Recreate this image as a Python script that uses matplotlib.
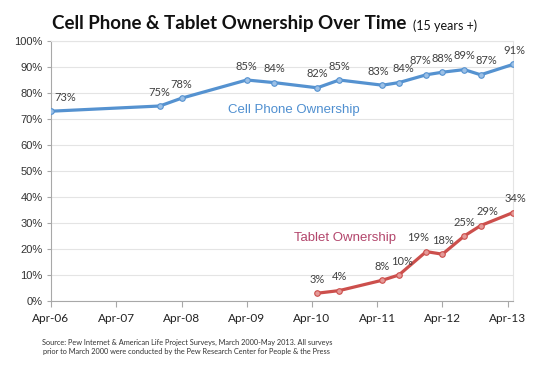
import datetime as dt
import matplotlib
matplotlib.use("Agg")
import matplotlib.pyplot as plt
import matplotlib.dates as mdates
from matplotlib.ticker import FuncFormatter

# data (Pew surveys)
cell_dates = ["2006-04", "2007-12", "2008-04", "2009-04", "2009-09", "2010-05", "2010-09",
              "2011-05", "2011-08", "2012-01", "2012-04", "2012-08", "2012-11", "2013-05"]
cell_pct = [73, 75, 78, 85, 84, 82, 85, 83, 84, 87, 88, 89, 87, 91]
tab_dates = ["2010-05", "2010-09", "2011-05", "2011-08", "2012-01", "2012-04",
             "2012-08", "2012-11", "2013-05"]
tab_pct = [3, 4, 8, 10, 19, 18, 25, 29, 34]
tick_years = [2006, 2007, 2008, 2009, 2010, 2011, 2012, 2013]

# small horizontal nudges for the value labels (points)
cell_dx = [10, 0, 0, 0, 0, 0, 0, -3, 3, -4, 0, 0, 4, 1]
tab_dx = [0, 0, 0, 2, -6, 0, 0, 5, 2]


def to_date(s):
    y, m = s.split("-")
    return dt.datetime(int(y), int(m), 1)


cx = [to_date(d) for d in cell_dates]
tx = [to_date(d) for d in tab_dates]

fig = plt.figure(figsize=(5.4, 3.71), dpi=100)
ax = fig.add_axes([51 / 540, 1 - 301 / 371, 462 / 540, 260 / 371])

blue = "#5592d0"
red = "#cc4f4c"
ax.plot(cx, cell_pct, color=blue, lw=2.3, marker="o", ms=4, mfc="#9cc0e6", mec=blue, mew=0.8, zorder=3)
ax.plot(tx, tab_pct, color=red, lw=2.3, marker="o", ms=4, mfc="#e59a98", mec=red, mew=0.8, zorder=3)

for x, v, d in zip(cx, cell_pct, cell_dx):
    ax.annotate(f"{v}%", (x, v), xytext=(d, 6), textcoords="offset points", ha="center",
                va="bottom", fontsize=8, family="Lato", color="#404040")
for x, v, d in zip(tx, tab_pct, tab_dx):
    ax.annotate(f"{v}%", (x, v), xytext=(d, 6), textcoords="offset points", ha="center",
                va="bottom", fontsize=8, family="Lato", color="#404040")

ax.text(0.526, 0.735, "Cell Phone Ownership", transform=ax.transAxes, ha="center", va="center",
        fontsize=9.5, family="Liberation Sans", color="#4f8fd0")
ax.text(0.636, 0.242, "Tablet Ownership", transform=ax.transAxes, ha="center", va="center",
        fontsize=9.5, family="Liberation Sans", color="#b3466c")

ax.set_ylim(0, 100)
ax.set_yticks(range(0, 101, 10))
ax.yaxis.set_major_formatter(FuncFormatter(lambda v, p: f"{int(v)}%"))
ax.set_xlim(dt.datetime(2006, 4, 1), dt.datetime(2013, 5, 1))
ax.set_xticks([dt.datetime(y, 4, 1) for y in tick_years])
ax.xaxis.set_major_formatter(mdates.DateFormatter("Apr-%y"))

ax.grid(axis="y", color="#e4e4e4", lw=0.8)
ax.set_axisbelow(True)
for s in ["top", "right"]:
    ax.spines[s].set_color("#e4e4e4")
for s in ["left", "bottom"]:
    ax.spines[s].set_color("#a8a8a8")
ax.tick_params(axis="x", length=4, color="#a8a8a8", pad=5, labelsize=8.5, labelcolor="#222222")
ax.tick_params(axis="y", length=3, color="#a8a8a8", pad=3, labelsize=8, labelcolor="#333333")
for lab in ax.get_xticklabels():
    lab.set_family("Lato")
for lab in ax.get_yticklabels():
    lab.set_family("Liberation Sans")

t = fig.text(52 / 540, 1 - 29 / 371, "Cell Phone & Tablet Ownership Over Time", ha="left",
             va="baseline", fontsize=13.5, fontweight="bold", family="Lato", color="#111111")
plt.annotate("(15 years +)", xy=(1, 0), xycoords=t, xytext=(5, 0), textcoords="offset points",
             ha="left", va="bottom", fontsize=9, family="Lato", color="#111111")

fig.text(187 / 540, 1 - 347 / 371,
         "Source: Pew Internet & American Life Project Surveys, March 2000-May 2013. All surveys\n"
         "prior to March 2000 were conducted by the Pew Research Center for People & the Press",
         ha="center", va="center", fontsize=5.3, family="Lato", color="#333333", linespacing=1.4)

fig.savefig("out.png", dpi=100)
